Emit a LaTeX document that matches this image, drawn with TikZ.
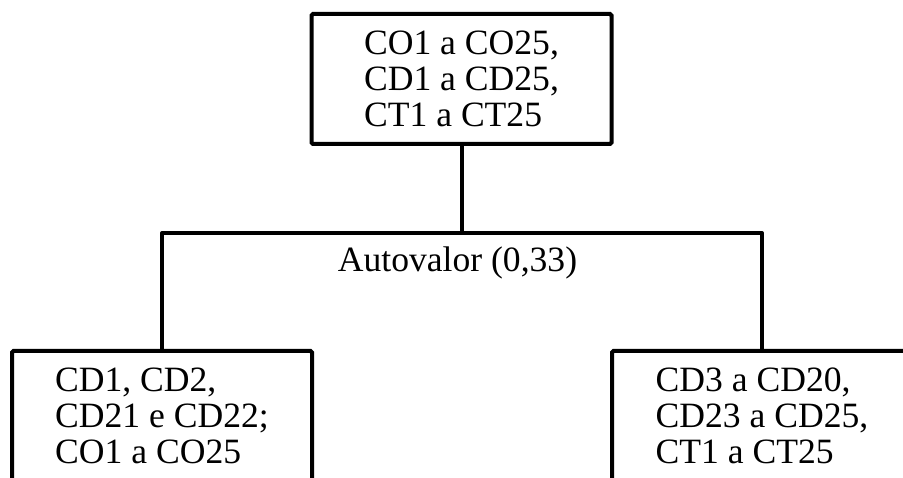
\documentclass[tikz,border=0pt]{standalone}
\usepackage{fontspec}
\setmainfont{Liberation Serif}
\usetikzlibrary{positioning}

\tikzset{
  group/.style={draw, line width=4pt, rounded corners=1.5pt, minimum width=300pt,
    minimum height=130pt, align=flush left, inner sep=0pt,
    font=\fontsize{35.6}{36}\selectfont},
  branch/.style={line width=4pt, line join=round}
}

\begin{document}
\begin{tikzpicture}[x=1pt, y=1pt]

  % picture frame, 903 x 477
  \clip (0,0) rectangle (903,477);
  \fill[white] (0,0) rectangle (903,477);

  % top group and the two groups below
  \node[group] (all) at (461.5,398) {CO1 a CO25,\\CD1 a CD25,\\CT1 a CT25};
  \node[group] (grpA) at (162,61) {CD1, CD2,\\CD21 e CD22;\\CO1 a CO25};
  \node[group] (grpB) at (762,61) {CD3 a CD20,\\CD23 a CD25,\\CT1 a CT25};

  % split level
  \coordinate (split) at (all.south |- 0,244);

  % connectors
  \draw[branch] (all.south) -- (split);
  \draw[branch] (grpA.north) -- (grpA.north |- split) -- (grpB.north |- split) -- (grpB.north);

  % split label
  \node[font=\fontsize{35.6}{36}\selectfont] (autoval) at ([shift={(-4pt,-30pt)}]split) {Autovalor (0,33)};
\end{tikzpicture}
\end{document}
